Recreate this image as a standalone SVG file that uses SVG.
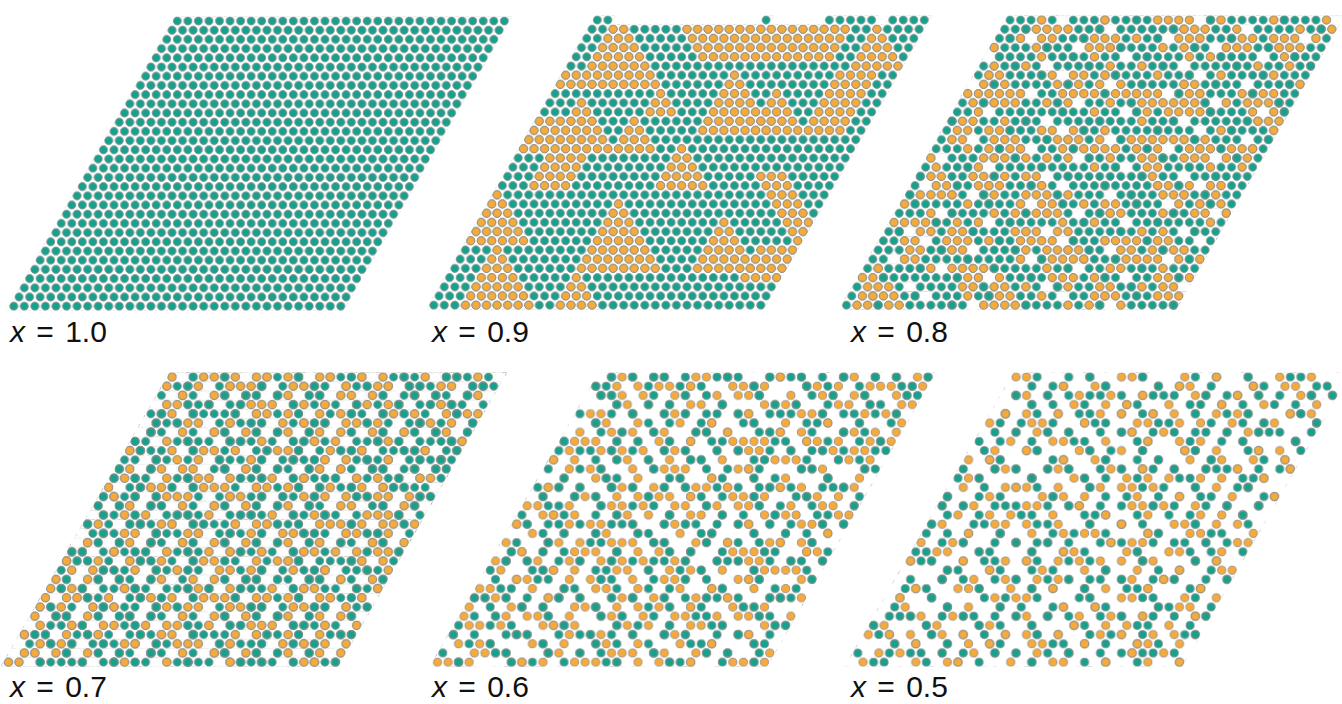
<svg xmlns="http://www.w3.org/2000/svg" width="1342" height="704" viewBox="0 0 1342 704">
<style>
.o{fill:#f6aa3a;stroke:#8e8e8e;stroke-width:.9}
.t{fill:#17a18c;stroke:#8e8e8e;stroke-width:.9}
.w{fill:#fff}
.lbl{font-family:"Liberation Sans",Arial,sans-serif;font-size:30px;word-spacing:3px;fill:#111}
.lbl .v{font-style:italic}
</style>
<defs>
<circle id="d" r="4.05"/>
<ellipse id="e" rx="5.6" ry="5.2"/>
<polygon id="rh" points="-0.5,-0.5 31.5,-0.5 31.5,31.5 -0.5,31.5"/>
<polygon id="rhb" points="-1.5,-1.5 32.5,-1.5 32.5,32.5 -1.5,32.5"/>
<clipPath id="cr"><use href="#rh"/></clipPath>
<pattern id="T" patternUnits="userSpaceOnUse" x="-5.275" y="-4.6" width="10.55" height="18.4" patternTransform="matrix(0.09478673,0,0.05434783,0.10869565,0,0)">
<g class="t"><use href="#d" x="5.275" y="4.6"/><use href="#d" x="0" y="13.8"/><use href="#d" x="10.55" y="13.8"/></g>
</pattern>
<pattern id="O" patternUnits="userSpaceOnUse" x="-5.275" y="-4.6" width="10.55" height="18.4" patternTransform="matrix(0.09478673,0,0.05434783,0.10869565,0,0)">
<g class="o"><use href="#d" x="5.275" y="4.6"/><use href="#d" x="0" y="13.8"/><use href="#d" x="10.55" y="13.8"/></g>
</pattern>
<pattern id="A" patternUnits="userSpaceOnUse" x="-5.275" y="-4.6" width="73.85" height="55.2" patternTransform="matrix(0.09478673,0,0.05434783,0.10869565,0,0)">
<g class="o">
<use href="#d" x="15.825" y="4.6"/><use href="#d" x="47.475" y="4.6"/><use href="#d" x="58.025" y="4.6"/>
<use href="#d" x="0" y="13.8"/><use href="#d" x="73.85" y="13.8"/><use href="#d" x="21.1" y="13.8"/><use href="#d" x="63.3" y="13.8"/>
<use href="#d" x="36.925" y="23"/><use href="#d" x="47.475" y="23"/>
<use href="#d" x="10.55" y="32.2"/><use href="#d" x="52.75" y="32.2"/>
<use href="#d" x="5.275" y="41.4"/><use href="#d" x="26.375" y="41.4"/><use href="#d" x="68.575" y="41.4"/>
<use href="#d" x="31.65" y="50.6"/><use href="#d" x="42.2" y="50.6"/><use href="#d" x="63.3" y="50.6"/>
</g>
</pattern>
<pattern id="C" patternUnits="userSpaceOnUse" x="-5.275" y="-4.6" width="94.95" height="73.6" patternTransform="matrix(0.09478673,0,0.05434783,0.10869565,0,0)">
<g class="o">
<use href="#d" x="5.275" y="4.6"/><use href="#d" x="68.575" y="4.6"/>
<use href="#d" x="31.65" y="13.8"/><use href="#d" x="84.4" y="13.8"/>
<use href="#d" x="15.825" y="23"/><use href="#d" x="58.025" y="23"/><use href="#d" x="79.125" y="23"/>
<use href="#d" x="42.2" y="32.2"/><use href="#d" x="0" y="32.2"/><use href="#d" x="94.95" y="32.2"/>
<use href="#d" x="26.375" y="41.4"/><use href="#d" x="89.675" y="41.4"/>
<use href="#d" x="63.3" y="50.6"/><use href="#d" x="10.55" y="50.6"/>
<use href="#d" x="47.475" y="59.8"/><use href="#d" x="79.125" y="59.8"/>
<use href="#d" x="21.1" y="69"/><use href="#d" x="52.75" y="69"/>
</g>
</pattern>
<pattern id="C2" patternUnits="userSpaceOnUse" x="-5.275" y="-4.6" width="116.05" height="55.2" patternTransform="matrix(0.09478673,0,0.05434783,0.10869565,0,0)">
<g class="o">
<use href="#d" x="36.925" y="4.6"/><use href="#d" x="100.225" y="4.6"/>
<use href="#d" x="63.3" y="13.8"/>
<use href="#d" x="15.825" y="23"/><use href="#d" x="79.125" y="23"/>
<use href="#d" x="42.2" y="32.2"/><use href="#d" x="105.5" y="32.2"/>
<use href="#d" x="89.675" y="41.4"/>
<use href="#d" x="21.1" y="50.6"/>
</g>
</pattern>
<pattern id="B" patternUnits="userSpaceOnUse" x="-5.275" y="-4.6" width="52.75" height="36.8" patternTransform="matrix(0.09478673,0,0.05434783,0.10869565,0,0)">
<g class="t">
<use href="#d" x="26.375" y="4.6"/><use href="#d" x="42.2" y="13.8"/><use href="#d" x="5.275" y="23"/><use href="#d" x="36.925" y="23"/><use href="#d" x="21.1" y="32.2"/>
</g>
</pattern>
<pattern id="B2" patternUnits="userSpaceOnUse" x="-5.275" y="-4.6" width="73.85" height="92" patternTransform="matrix(0.09478673,0,0.05434783,0.10869565,0,0)">
<g class="t">
<use href="#d" x="58.025" y="4.6"/><use href="#d" x="21.1" y="13.8"/><use href="#d" x="5.275" y="23"/><use href="#d" x="42.2" y="32.2"/><use href="#d" x="68.575" y="41.4"/>
<use href="#d" x="10.55" y="50.6"/><use href="#d" x="36.925" y="59.8"/><use href="#d" x="63.3" y="69"/><use href="#d" x="26.375" y="78.2"/><use href="#d" x="52.75" y="87.4"/>
</g>
</pattern>
<pattern id="V1" patternUnits="userSpaceOnUse" x="-5.275" y="-4.6" width="63.3" height="36.8" patternTransform="matrix(0.09478673,0,0.05434783,0.10869565,0,0)">
<g class="w">
<use href="#e" x="15.825" y="4.6"/><use href="#e" x="42.2" y="13.8"/><use href="#e" x="5.275" y="23"/><use href="#e" x="36.925" y="23"/><use href="#e" x="52.75" y="32.2"/>
</g>
</pattern>
<pattern id="V4" patternUnits="userSpaceOnUse" x="-5.275" y="-4.6" width="137.15" height="55.2" patternTransform="matrix(0.09478673,0,0.05434783,0.10869565,0,0)">
<g class="w">
<use href="#e" x="58.025" y="4.6"/><use href="#e" x="105.5" y="13.8"/><use href="#e" x="26.375" y="23"/><use href="#e" x="73.85" y="32.2"/><use href="#e" x="121.325" y="41.4"/><use href="#e" x="42.2" y="50.6"/>
</g>
</pattern>
<pattern id="A5" href="#A" x="26.375" y="13.8"/>
<pattern id="B5" href="#B" x="26.375" y="13.8"/>
<pattern id="C2b" href="#C2" x="47.475" y="32.2"/>
<pattern id="B2b" href="#B2" x="26.375" y="13.8"/>
<pattern id="C6" href="#C" x="26.375" y="13.8"/>
<pattern id="B6" href="#B" x="47.475" y="32.2"/>
<pattern id="C2c" href="#C2" x="26.375" y="13.8"/>
</defs>
<rect width="1342" height="704" fill="#fff"/>

<g id="panel-x10" transform="matrix(10.55,0,-5.275,9.2,177.3,21)">
<use href="#rh" fill="url(#T)"/>
</g>

<g id="panel-x09" transform="matrix(10.55,0,-5.275,9.2,597.3,20)">
<use href="#rh" fill="url(#T)"/>
<g fill="url(#O)" clip-path="url(#cr)">
<polygon points="1.5,-1 10,7.5 1.5,7.5"/>
<polygon points="-0.5,5.5 1.5,5.5 1.5,7.5 -0.5,7.5"/>
<polygon points="8,0.5 24.5,0.5 24.5,4.5 12,4.5"/>
<polygon points="26.5,0 32,5.5 26.5,5.5"/>
<polygon points="25.5,5.5 29.5,5.5 29.5,12.5 25.5,12.5"/>
<polygon points="15.5,5 23,12.5 15.5,12.5"/>
<polygon points="20.5,7 26,12.5 20.5,12.5"/>
<polygon points="9.5,7 13,10.5 9.5,10.5"/>
<polygon points="2.5,8 9,14.5 2.5,14.5"/>
<polygon points="-0.5,10.5 2.5,10.5 2.5,14.5 -0.5,14.5"/>
<polygon points="8.5,10 13,14.5 8.5,14.5"/>
<polygon points="2.5,14.5 6.5,14.5 6.5,18.5 2.5,18.5"/>
<polygon points="14.5,13 20,18.5 14.5,18.5"/>
<polygon points="23,16.5 26,16.5 34,24.5 31,24.5"/>
<polygon points="-0.5,18 6,24.5 -0.5,24.5"/>
<polygon points="11.5,19 20,27.5 11.5,27.5"/>
<polygon points="22.5,21 29,27.5 22.5,27.5"/>
<polygon points="27.5,24.5 31.5,24.5 31.5,28.5 27.5,28.5"/>
<polygon points="2.5,24 10,31.5 2.5,31.5"/>
<polygon points="11.5,27 16,31.5 11.5,31.5"/>
</g>
<g class="w">
<polygon points="1.5,-0.8 15.5,-0.8 15.5,0.5 1.5,0.5"/>
<polygon points="16.5,-0.8 21.5,-0.8 21.5,0.5 16.5,0.5"/>
<polygon points="26.5,-0.8 27.5,-0.8 27.5,0.5 26.5,0.5"/>
</g>
</g>

<g id="panel-x08" transform="matrix(10.55,0,-5.275,9.2,1010,20)">
<use href="#rh" fill="url(#T)"/>
<use href="#rh" fill="url(#C2)"/>
<g fill="url(#O)" clip-path="url(#cr)">
<polygon points="1,0.5 5.5,0.5 5.5,5"/>
<polygon points="8.5,-1 13,3.5 8.5,3.5"/>
<polygon points="14,-0.5 19.5,-0.5 19.5,5"/>
<polygon points="21.5,0 25,3.5 21.5,3.5"/>
<polygon points="25,1.5 29.5,1.5 29.5,6"/>
<polygon points="29.5,-1 32,1.5 29.5,1.5"/>
<polygon points="0.5,4 6,9.5 0.5,9.5"/>
<polygon points="6,5.5 10.5,5.5 10.5,10"/>
<polygon points="11.5,4 16,8.5 11.5,8.5"/>
<polygon points="15,7.5 18.5,7.5 18.5,11"/>
<polygon points="19.5,5 25,10.5 19.5,10.5"/>
<polygon points="25,7.5 29.5,7.5 29.5,12"/>
<polygon points="29.5,8 33,11.5 29.5,11.5"/>
<polygon points="-1,10.5 2.5,10.5 2.5,14"/>
<polygon points="4.5,10 10,15.5 4.5,15.5"/>
<polygon points="9,11.5 13.5,11.5 13.5,16"/>
<polygon points="14.5,11 18,14.5 14.5,14.5"/>
<polygon points="17,12.5 22.5,12.5 22.5,18"/>
<polygon points="23.5,11 28,15.5 23.5,15.5"/>
<polygon points="27,13.5 30.5,13.5 30.5,17"/>
<polygon points="0.5,15 5,19.5 0.5,19.5"/>
<polygon points="4,16.5 8.5,16.5 8.5,21"/>
<polygon points="10.5,16 16,21.5 10.5,21.5"/>
<polygon points="18.5,18 22,21.5 18.5,21.5"/>
<polygon points="22,17.5 26.5,17.5 26.5,22"/>
<polygon points="27.5,17 32,21.5 27.5,21.5"/>
<polygon points="-1,21.5 4.5,21.5 4.5,27"/>
<polygon points="5.5,21 10,25.5 5.5,25.5"/>
<polygon points="11,22.5 14.5,22.5 14.5,26"/>
<polygon points="15.5,21 21,26.5 15.5,26.5"/>
<polygon points="20,23.5 24.5,23.5 24.5,28"/>
<polygon points="25.5,22 30,26.5 25.5,26.5"/>
<polygon points="0.5,26 6,31.5 0.5,31.5"/>
<polygon points="7,26.5 11.5,26.5 11.5,31"/>
<polygon points="12.5,27 17,31.5 12.5,31.5"/>
<polygon points="17,27.5 20.5,27.5 20.5,31"/>
<polygon points="22.5,27 27,31.5 22.5,31.5"/>
<polygon points="27,27.5 31.5,27.5 31.5,32"/>
</g>
<use href="#rh" fill="url(#B2)"/>
<use href="#rhb" fill="url(#V4)"/>
</g>

<g id="panel-x07" transform="matrix(10.55,0,-5.275,9.2,172,377)">
<use href="#rh" fill="url(#T)"/>
<use href="#rh" fill="url(#A)"/>
<use href="#rh" fill="url(#C)"/>
<use href="#rh" fill="url(#C2)"/>
<use href="#rh" fill="url(#B)"/>
<use href="#rh" fill="url(#B2)"/>
<use href="#rhb" fill="url(#V1)"/>
</g>

<g id="panel-x06" transform="matrix(10.55,0,-5.275,9.2,601,377)">
<use href="#rh" fill="url(#A5)"/>
<use href="#rh" fill="url(#C2b)"/>
<use href="#rh" fill="url(#B5)"/>
<use href="#rh" fill="url(#B2b)"/>
</g>

<g id="panel-x05" transform="matrix(10.55,0,-5.275,9.2,1016,377)">
<use href="#rh" fill="url(#B2)"/>
<use href="#rh" fill="url(#C6)"/>
<use href="#rh" fill="url(#C2c)"/>
<use href="#rh" fill="url(#B6)"/>
</g>

<g id="labels" class="lbl">
<text x="10" y="342"><tspan class="v">x</tspan> = 1.0</text>
<text x="432" y="342"><tspan class="v">x</tspan> = 0.9</text>
<text x="851" y="342"><tspan class="v">x</tspan> = 0.8</text>
<text x="10" y="697"><tspan class="v">x</tspan> = 0.7</text>
<text x="432" y="697"><tspan class="v">x</tspan> = 0.6</text>
<text x="851" y="697"><tspan class="v">x</tspan> = 0.5</text>
</g>
</svg>
